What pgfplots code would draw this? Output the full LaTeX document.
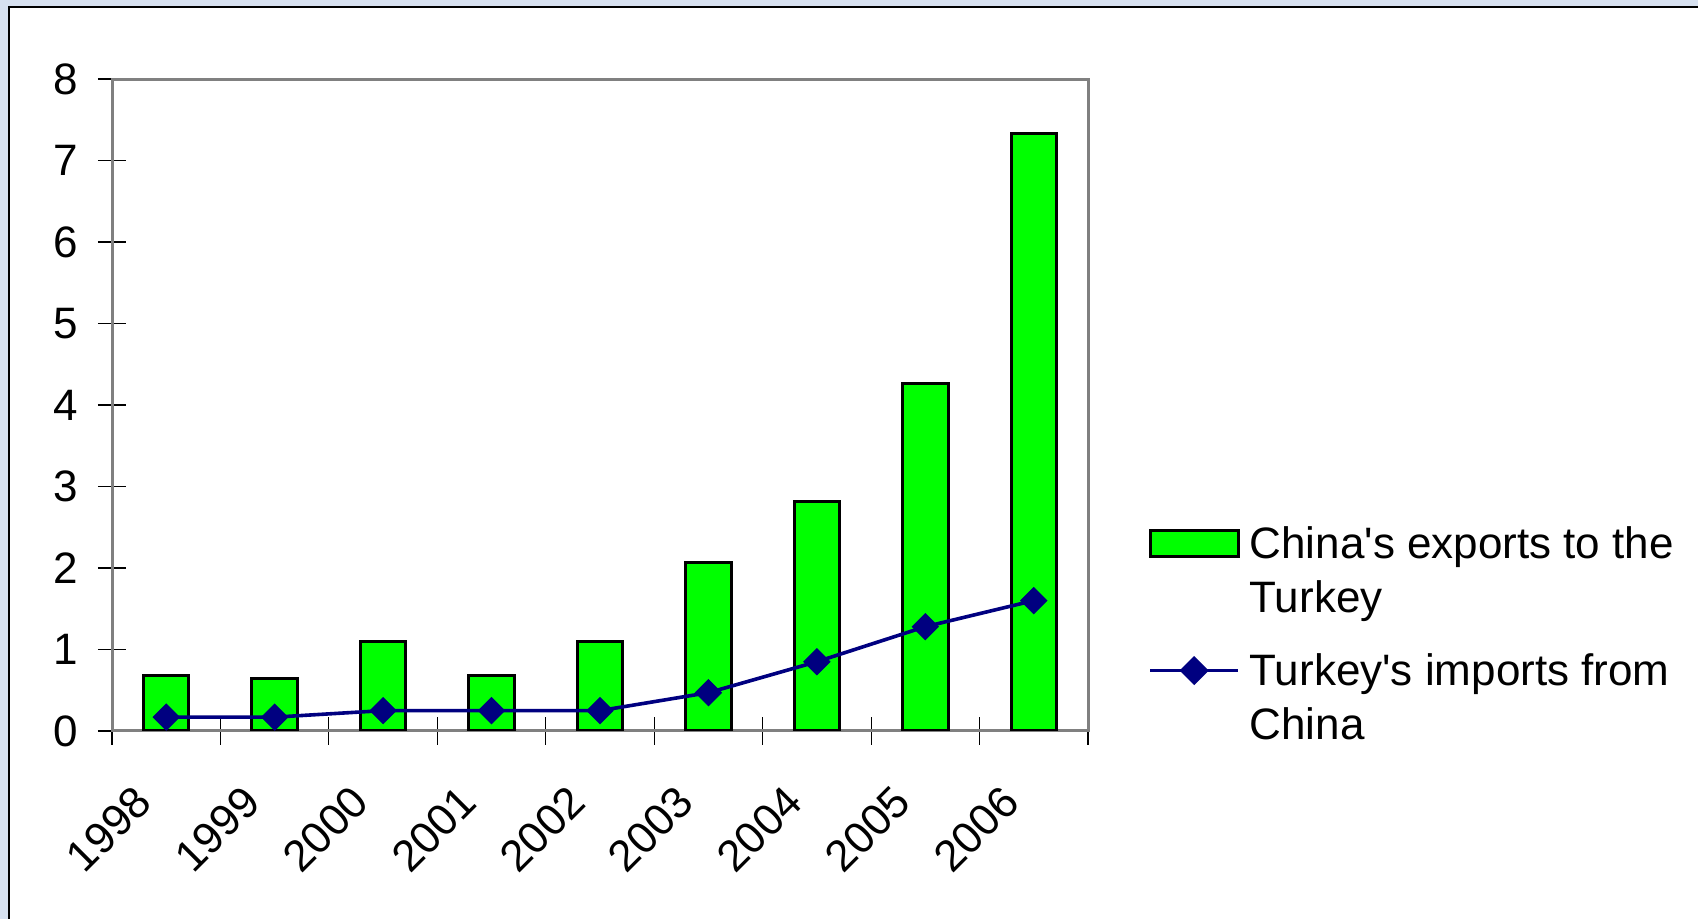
\documentclass[border=0pt]{standalone}
\usepackage{fontspec}
\setmainfont{Liberation Sans}
\usepackage{pgfplots}
\pgfplotsset{compat=1.18}
\usepackage{pgfplotstable}

\definecolor{barfill}{HTML}{00FF00}
\definecolor{navyline}{HTML}{000080}
\definecolor{slideblue}{HTML}{D7E1F0}
\definecolor{framegray}{HTML}{808080}

% year index, China's exports to Turkey, Turkey's imports from China
\pgfplotstableread{
x  exports  imports
0  0.68     0.17
1  0.64     0.17
2  1.10     0.25
3  0.68     0.25
4  1.10     0.25
5  2.07     0.47
6  2.82     0.85
7  4.26     1.28
8  7.33     1.60
}\tradedata

\begin{document}
\begin{tikzpicture}
  % slide background, 0.5pt per pixel of the reference
  \path[use as bounding box] (0,0) rectangle (849pt,459.5pt);
  \fill[slideblue] (0,0) rectangle (849pt,459.5pt);
  \fill[white] (4.5pt,0) rectangle (849pt,456pt);
  \draw[black, line width=0.7pt] (4.5pt,0) -- (4.5pt,456pt) -- (849pt,456pt);

  \begin{axis}[
      at={(56pt,94pt)}, anchor=south west,
      scale only axis,
      width=488pt, height=326pt,
      xmin=-0.5, xmax=8.5,
      ymin=0, ymax=8,
      ytick={0,...,8},
      xtick={0,...,8},
      xticklabels={1998,1999,2000,2001,2002,2003,2004,2005,2006},
      minor xtick={-0.5,0.5,...,8.5},
      tick align=center,
      major tick length=14pt,
      minor tick length=14pt,
      major x tick style={draw=none},
      tick style={black, line width=0.6pt},
      xtick pos=bottom, ytick pos=left,
      axis line style={framegray, line width=1.5pt},
      /pgf/number format/assume math mode=true,
      ticklabel style={font=\fontsize{22}{26}\selectfont},
      yticklabel style={anchor=east, inner sep=0pt, xshift=-10pt},
      xticklabel style={anchor=north east, inner sep=0pt, xshift=-17pt, yshift=-19pt, rotate=45},
      legend style={draw=none, fill=none, at={(1,0.33)}, anchor=north west,
        xshift=30pt, yshift=-3pt, inner sep=0pt, row sep=15pt, column sep=3pt,
        font=\fontsize{22}{27}\selectfont,
        cells={align=left, anchor=west}},
      legend cell align=left,
    ]
    \addplot[ybar, bar width=0.42, fill=barfill, draw=black, line width=1.5pt,
      legend image code/.code={%
        \draw[fill=barfill, draw=black, line width=1.5pt] (0pt,7pt) rectangle (44pt,20pt);
        \path (0pt,-20pt);}]
      table[x=x, y=exports] {\tradedata};
    \addlegendentry{China\textquotesingle s exports to the\\Turkey}
    \addplot[navyline, line width=1.8pt, mark=square*,
      mark options={rotate=45, solid, fill=navyline, draw=navyline, line width=0.5pt}, mark size=4.6pt,
      legend image code/.code={%
        \draw[navyline, line width=1.5pt] (0pt,13.5pt) -- (44pt,13.5pt);
        \fill[navyline] (22pt,19.5pt) -- (28pt,13.5pt) -- (22pt,7.5pt) -- (16pt,13.5pt) -- cycle;
        \path (0pt,-19.5pt);}]
      table[x=x, y=imports] {\tradedata};
    \addlegendentry{Turkey\textquotesingle s imports from\\China}
  \end{axis}
\end{tikzpicture}
\end{document}
